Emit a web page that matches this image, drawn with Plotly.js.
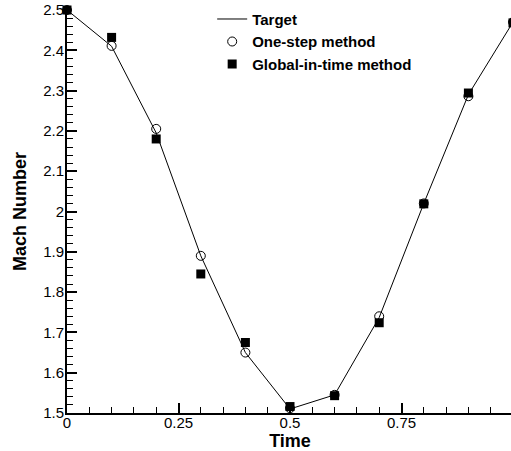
<!DOCTYPE html>
<html>
<head>
<meta charset="utf-8">
<script src="https://cdn.plot.ly/plotly-3.0.1.min.js"></script>
<style>
html,body{margin:0;padding:0;overflow:hidden;background:#fff;}
#chart{width:515px;height:451px;}
</style>
</head>
<body>
<div id="chart"></div>
<script>
var time = [0, 0.1, 0.2, 0.3, 0.4, 0.5, 0.6, 0.7, 0.8, 0.9, 1.0];
var targetMach = [2.5, 2.41, 2.195, 1.89, 1.65, 1.51, 1.545, 1.737, 2.02, 2.29, 2.47];
var oneStepMach = [2.5, 2.411, 2.205, 1.890, 1.650, 1.512, 1.545, 1.740, 2.020, 2.286, 2.470];
var globalMach = [2.5, 2.432, 2.180, 1.845, 1.675, 1.516, 1.543, 1.724, 2.019, 2.294, 2.468];
var xTickVals = [0, 0.25, 0.5, 0.75, 1];
var xTickText = ['0', '0.25', '0.5', '0.75', '1'];
var yTickVals = [1.5, 1.6, 1.7, 1.8, 1.9, 2.0, 2.1, 2.2, 2.3, 2.4, 2.5];
var yTickText = ['1.5', '1.6', '1.7', '1.8', '1.9', '2', '2.1', '2.2', '2.3', '2.4', '2.5'];

var FONT = '"Liberation Sans", Arial, Helvetica, sans-serif';

var traces = [
  {x: time, y: targetMach, name: 'Target', type: 'scatter', mode: 'lines',
   line: {color: '#000', width: 1}},
  {x: time, y: oneStepMach, name: 'One-step method', type: 'scatter', mode: 'markers',
   marker: {symbol: 'circle-open', size: 9, color: '#000', line: {color: '#000', width: 1}},
   cliponaxis: false},
  {x: time, y: globalMach, name: 'Global-in-time method', type: 'scatter', mode: 'markers',
   marker: {symbol: 'square', size: 9, color: '#000'}, cliponaxis: false}
];

var layout = {
  width: 515, height: 451,
  margin: {l: 67, r: 2, t: 10, b: 38},
  paper_bgcolor: '#fff', plot_bgcolor: '#fff',
  font: {family: FONT, color: '#000', size: 15},
  showlegend: true,
  legend: {
    x: 0.3255, y: 1.018, xanchor: 'left', yanchor: 'top',
    bgcolor: 'rgba(0,0,0,0)', borderwidth: 0,
    font: {family: FONT, size: 15, color: '#000', weight: 'bold'},
    tracegroupgap: 0
  },
  xaxis: {
    range: [0, 1], showgrid: false, zeroline: false,
    showline: true, linecolor: '#000', linewidth: 2, mirror: false,
    ticks: 'inside', ticklen: 10, tickwidth: 2, tickcolor: '#000',
    tickmode: 'array', tickvals: xTickVals, ticktext: xTickText,
    tickfont: {family: FONT, size: 15, color: '#000'},
    ticklabelstandoff: -5,
    minor: {dtick: 0.05, ticks: 'inside', ticklen: 6, tickwidth: 1, tickcolor: '#000', showgrid: false},
    title: {text: 'Time', font: {family: FONT, size: 18, color: '#000', weight: 'bold'}, standoff: 2},
    automargin: false
  },
  yaxis: {
    range: [1.5, 2.5], showgrid: false, zeroline: false,
    showline: true, linecolor: '#000', linewidth: 2, mirror: false,
    ticks: 'inside', ticklen: 10, tickwidth: 2, tickcolor: '#000',
    tickmode: 'array', tickvals: yTickVals, ticktext: yTickText,
    tickfont: {family: FONT, size: 15, color: '#000'},
    ticklabelstandoff: -2,
    minor: {dtick: 0.02, ticks: 'inside', ticklen: 6, tickwidth: 1, tickcolor: '#000', showgrid: false},
    title: {text: 'Mach Number', font: {family: FONT, size: 18, color: '#000', weight: 'bold'}, standoff: 12},
    automargin: false
  }
};

Plotly.newPlot('chart', traces, layout, {displayModeBar: false, staticPlot: true});
</script>
</body>
</html>
